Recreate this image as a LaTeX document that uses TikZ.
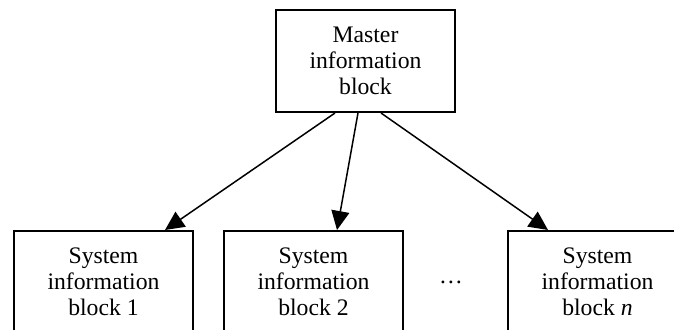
\documentclass[tikz,border=0pt]{standalone}
\usepackage{fontspec}
\setmainfont{Liberation Serif}
\usetikzlibrary{arrows.meta}

\tikzset{
	blockbox/.style={draw, line width=1pt, minimum width=89.5pt, minimum height=51pt, inner sep=0pt, align=center, font=\fontsize{11.85}{13}\selectfont},
	link/.style={line width=0.75pt, -{Triangle[length=9.5pt, width=9pt]}}
}

\begin{document}
\begin{tikzpicture}[x=0.5pt, y=-0.5pt]

		\useasboundingbox (0,0) rectangle (674,330);

		\node [blockbox] (mib) at (365.5,61) {Master\\information\\block};

		\node [blockbox] (sib1) at (103.5,282) {System\\information\\block 1};
		\node [blockbox] (sib2) at (313.5,282) {System\\information\\block 2};
		\node [blockbox] (sibn) at (597.5,282) {System\\information\\block \textit{n}};

		\node [font=\fontsize{11.85}{13}\selectfont] (dots) at (451,282) {…};

		\draw[link] ([xshift=-15.25pt]mib.south)--([xshift=30.75pt]sib1.north);
		\draw[link] ([xshift=-3.75pt]mib.south)--([xshift=11.75pt]sib2.north);
		\draw[link] ([xshift=7.75pt]mib.south)--([xshift=-24.75pt]sibn.north);

	\end{tikzpicture}
\end{document}
